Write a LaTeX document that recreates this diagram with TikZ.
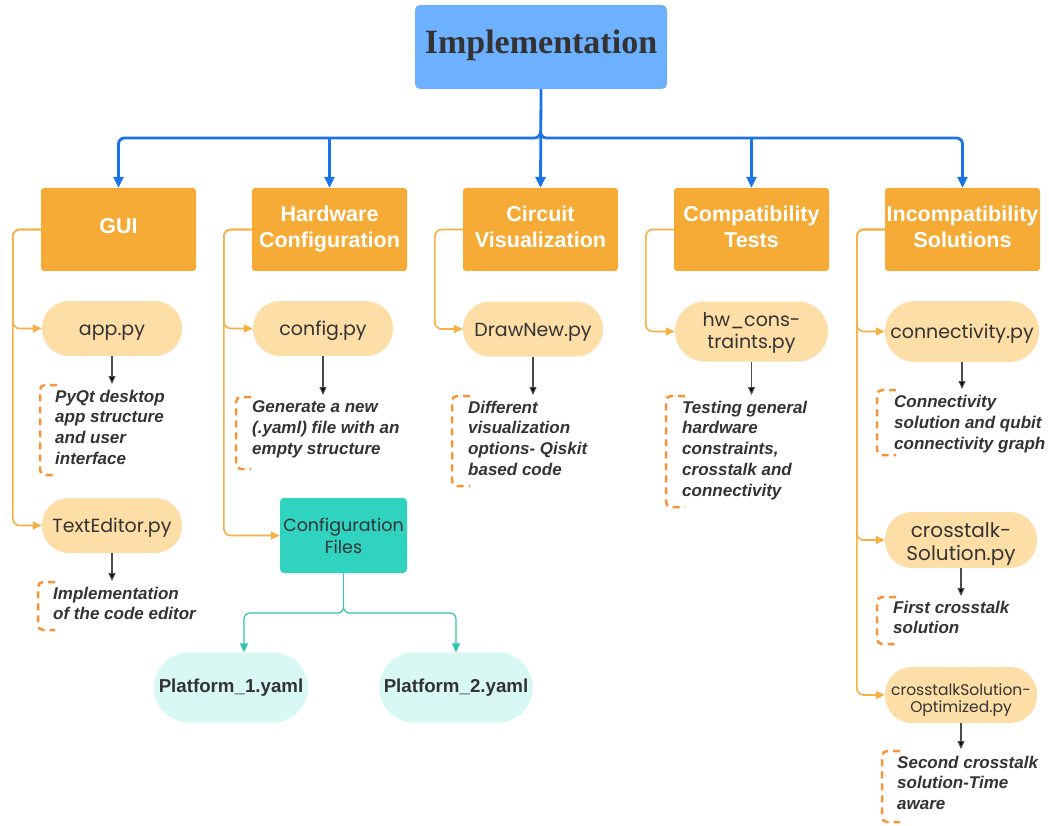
\documentclass[tikz,border=0pt]{standalone}
\usepackage{fontspec}
\setmainfont{Liberation Sans}
\newfontfamily\titlefont{Liberation Serif}
\newfontfamily\pillfont{Poppins}
\usetikzlibrary{arrows.meta}
\definecolor{titleblue}{RGB}{108,176,254}
\definecolor{lineblue}{RGB}{26,115,232}
\definecolor{orangebox}{RGB}{245,171,53}
\definecolor{lineorange}{RGB}{247,176,70}
\definecolor{peach}{RGB}{254,222,167}
\definecolor{bracketorange}{RGB}{247,148,58}
\definecolor{tealbox}{RGB}{47,211,191}
\definecolor{tealline}{RGB}{46,197,176}
\definecolor{cyanpill}{RGB}{215,248,243}
\definecolor{dark}{RGB}{51,51,51}
\begin{document}
\begin{tikzpicture}[x=1pt,y=-1pt,
  titlebox/.style={fill=titleblue, rounded corners=5pt, minimum width=252pt, minimum height=84pt, inner sep=0pt, text=dark, font=\titlefont\bfseries\fontsize{34}{40}\selectfont, text height=23.5pt, text depth=10pt},
  catbox/.style={fill=orangebox, rounded corners=3pt, minimum width=155pt, minimum height=83pt, text=white, font=\bfseries\fontsize{21.5}{26}\selectfont, align=center, inner sep=0pt, text depth=7.5pt},
  pill/.style={fill=peach, rounded corners=27pt, minimum width=140pt, minimum height=55pt, text=dark, font=\pillfont\fontsize{19}{22}\selectfont, align=center, inner sep=0pt, text height=14pt, text depth=0pt},
  yamlpill/.style={fill=cyanpill, rounded corners=35pt, minimum width=154pt, minimum height=70pt, text=dark, font=\bfseries\fontsize{18.7}{22}\selectfont, inner sep=0pt},
  cfgbox/.style={fill=tealbox, rounded corners=4pt, minimum width=127pt, minimum height=75pt, text=dark, font=\pillfont\fontsize{17.5}{22}\selectfont, align=center, inner sep=0pt},
  desc/.style={anchor=north west, inner sep=0pt, align=left, text=dark, font=\bfseries\itshape\fontsize{17}{20.8}\selectfont},
  bluearrow/.style={draw=lineblue, line width=2.8pt, -{Triangle[length=11pt,width=10pt]}, rounded corners=6pt},
  orangearrow/.style={draw=lineorange, line width=1.6pt, -{Triangle[length=9pt,width=8pt]}, rounded corners=7pt},
  blackarrow/.style={draw=black!70, line width=1.1pt, -{Triangle[length=8pt,width=7pt,fill=black]}},
  tealarrow/.style={draw=tealline, line width=1.2pt, -{Triangle[length=9pt,width=8pt]}, rounded corners=6pt},
  bracket/.style={draw=bracketorange, line width=2.5pt, dash pattern=on 7pt off 5pt, rounded corners=5pt}
]
\useasboundingbox[fill=white] (0,0) rectangle (1049,826);

% title
\node[titlebox] (title) at (541,47) {Implementation};

% categories
\node[catbox] (gui) at (118.5,229.5) {GUI};
\node[catbox, text depth=6pt] (hw) at (329.5,229.5) {Hardware\\Configuration};
\node[catbox, text depth=6pt] (circ) at (540.5,229.5) {Circuit\\Visualization};
\node[catbox, text depth=6pt] (comp) at (751.5,229.5) {Compatibility\\Tests};
\node[catbox, text depth=6pt] (inc) at (962.5,229.5) {Incompatibility\\Solutions};

% blue connectors
\coordinate (split) at (540.5,131);
\coordinate (bar) at (0,138);
\draw[bluearrow] (title.south) -- (circ.north);
\draw[bluearrow] (split) |- (gui.north |- bar) -- (gui.north);
\draw[bluearrow] (split) |- (inc.north |- bar) -- (inc.north);
\draw[bluearrow] (hw.north |- bar) -- (hw.north);
\draw[bluearrow] (comp.north |- bar) -- (comp.north);

% pills
\node[pill] (app) at (112,328.5) {app.py};
\node[pill] (ted) at (112,525.5) {TextEditor.py};
\node[pill] (conf) at (323,328.5) {config.py};
\node[pill] (drawn) at (533,329) {DrawNew.py};
\node[pill, minimum width=153pt, minimum height=60pt, rounded corners=30pt, text height=34pt, text depth=0pt] (hwc) at (751.5,331.5) {hw\_cons-\\traints.py};
\node[pill, minimum width=154pt, minimum height=61pt, rounded corners=30pt] (conn) at (962,331.5) {connectivity.py};
\node[pill, minimum width=152pt, minimum height=56pt, font=\pillfont\fontsize{20}{23}\selectfont, text height=40pt, text depth=0pt] (cs) at (961,540) {crosstalk-\\Solution.py};
\node[pill, minimum width=152pt, minimum height=56pt, font=\pillfont\fontsize{15.5}{17}\selectfont, text height=34pt, text depth=0pt] (cso) at (961,695) {crosstalkSolution-\\Optimized.py};

% configuration files
\node[cfgbox] (cfg) at (343.5,535.5) {Configuration\\Files};
\node[yamlpill] (p1) at (231,687.5) {Platform\_1.yaml};
\node[yamlpill] (p2) at (456,687.5) {Platform\_2.yaml};

% orange connectors
\draw[orangearrow] (gui.west) -- ++(-28,0) |- (app.west);
\draw[orangearrow] (gui.west) -- ++(-28,0) |- (ted.west);
\draw[orangearrow] (hw.west) -- ++(-28,0) |- (conf.west);
\draw[orangearrow] (hw.west) -- ++(-28,0) |- (cfg.west);
\draw[orangearrow] (circ.west) -- ++(-28,0) |- (drawn.west);
\draw[orangearrow] (comp.west) -- ++(-28,0) |- (hwc.west);
\draw[orangearrow] (inc.west) -- ++(-28,0) |- (conn.west);
\draw[orangearrow] (inc.west) -- ++(-28,0) |- (cs.west);
\draw[orangearrow] (inc.west) -- ++(-28,0) |- (cso.west);

% teal connectors
\coordinate (tsplit) at (343.5,607);
\coordinate (tbar) at (0,613);
\coordinate (p1in) at ([xshift=13pt]p1.north);
\draw[tealline, line width=1.2pt] (cfg.south) -- (tsplit);
\draw[tealarrow] (tsplit) |- (p1in |- tbar) -- (p1in);
\draw[tealarrow] (tsplit) |- (p2.north |- tbar) -- (p2.north);

% descriptions
\node[desc] (d1) at (55,389.5) {PyQt desktop\\app structure\\and user\\interface};
\node[desc] (d2) at (53,586.5) {Implementation\\of the code editor};
\node[desc] (d3) at (252,400.5) {Generate a new\\(.yaml) file with an\\empty structure};
\node[desc] (d4) at (468,400.5) {Different\\visualization\\options- Qiskit\\based code};
\node[desc] (d5) at (682,400.5) {Testing general\\hardware\\constraints,\\crosstalk and\\connectivity};
\node[desc] (d6) at (894,395) {Connectivity\\solution and qubit\\connectivity graph};
\node[desc] (d7) at (893,600.5) {First crosstalk\\solution};
\node[desc] (d8) at (897,755.5) {Second crosstalk\\solution-Time\\aware};

% black arrows
\coordinate (e1) at (112,384);
\coordinate (e2) at (112,581);
\coordinate (e3) at (323,395);
\coordinate (e4) at (533,395);
\coordinate (e5) at (751.5,395);
\coordinate (e6) at (962,389);
\coordinate (e7) at (961,596);
\coordinate (e8) at (961,749);
\draw[blackarrow] (app.south) -- (e1);
\draw[blackarrow] (ted.south) -- (e2);
\draw[blackarrow] (conf.south) -- (e3);
\draw[blackarrow] (drawn.south) -- (e4);
\draw[blackarrow] (hwc.south) -- (e5);
\draw[blackarrow] (conn.south) -- (e6);
\draw[blackarrow] (cs.south) -- (e7);
\draw[blackarrow] (cso.south) -- (e8);

% dashed brackets
\draw[bracket] (57,385) -- (40,385) -- (40,475) -- (57,475);
\draw[bracket] (55,582) -- (38,582) -- (38,630) -- (55,630);
\draw[bracket] (251,397) -- (236,397) -- (236,469) -- (251,469);
\draw[bracket] (470,396) -- (452,396) -- (452,486) -- (470,486);
\draw[bracket] (685,396) -- (666,396) -- (666,507) -- (685,507);
\draw[bracket] (896,390) -- (877,390) -- (877,455) -- (896,455);
\draw[bracket] (896,597) -- (877,597) -- (877,644) -- (896,644);
\draw[bracket] (900,751) -- (882,751) -- (882,822) -- (900,822);
\end{tikzpicture}
\end{document}
